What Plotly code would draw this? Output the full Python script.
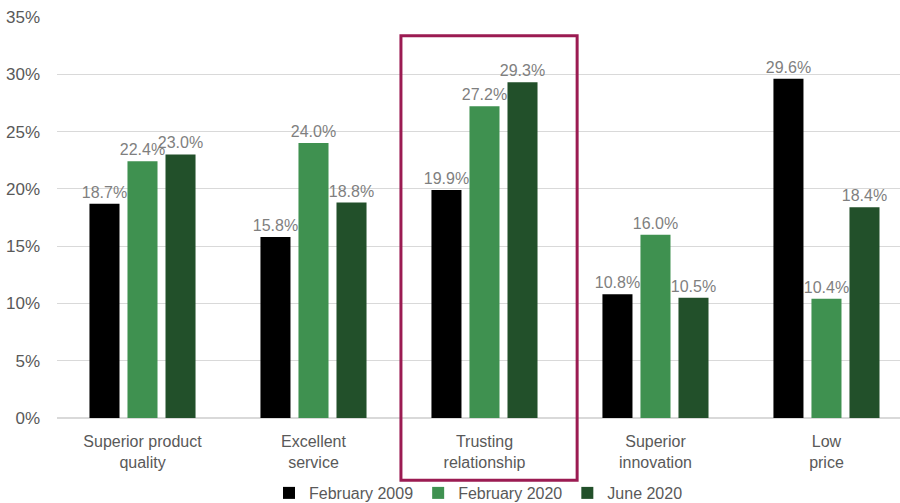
import plotly.graph_objects as go

categories = ["Superior product<br>quality", "Excellent<br>service", "Trusting<br>relationship",
              "Superior<br>innovation", "Low<br>price"]
series_names = ["February 2009", "February 2020", "June 2020"]
feb2009 = [18.7, 15.8, 19.9, 10.8, 29.6]
feb2020 = [22.4, 24.0, 27.2, 16.0, 10.4]
jun2020 = [23.0, 18.8, 29.3, 10.5, 18.4]
colors = ["#000000", "#3F9150", "#22502A"]
y_ticks = [0, 5, 10, 15, 20, 25, 30, 35]

FONT = "Liberation Sans, Arial"

fig = go.Figure()
for name, vals, col in zip(series_names, [feb2009, feb2020, jun2020], colors):
    fig.add_trace(go.Bar(
        x=list(range(len(categories))), y=vals, name=name, marker_color=col,
        marker_line_width=0,
        text=[f"{v:.1f}%" for v in vals], textposition="outside", cliponaxis=False,
        constraintext="none",
        textfont=dict(size=16, color="#7F7F7F", family=FONT),
    ))

fig.update_layout(
    width=900, height=503,
    margin=dict(l=57, r=0, t=17, b=85, autoexpand=False),
    plot_bgcolor="white", paper_bgcolor="white",
    barmode="group", bargap=0.333, bargroupgap=0.21,
    font=dict(family=FONT, size=16, color="#595959"),
    xaxis=dict(tickmode="array", tickvals=list(range(len(categories))), ticktext=categories,
               range=[-0.5, 4.43], showgrid=False, showline=False, ticks="",
               ticklabelstandoff=12,
               tickfont=dict(size=16, color="#595959")),
    yaxis=dict(range=[0, 35], tickvals=y_ticks, ticktext=[f"{t}%" for t in y_ticks],
               gridcolor="#D9D9D9", gridwidth=1, zeroline=True, zerolinecolor="#D9D9D9",
               showline=False, ticks="", ticklabelstandoff=16,
               tickfont=dict(size=17, color="#595959")),
    legend=dict(orientation="h", x=0.5, xanchor="center", y=-0.187, yanchor="middle",
                font=dict(size=16, color="#595959"), traceorder="normal",
                bgcolor="rgba(0,0,0,0)", itemwidth=30, tracegroupgap=0),
    showlegend=True,
)

fig.add_shape(type="rect", xref="paper", yref="paper", x0=0.408, x1=0.617, y0=-0.155, y1=0.953,
              line=dict(color="#9B1B52", width=3), fillcolor="rgba(0,0,0,0)", layer="above")

fig.write_html("out.html")
